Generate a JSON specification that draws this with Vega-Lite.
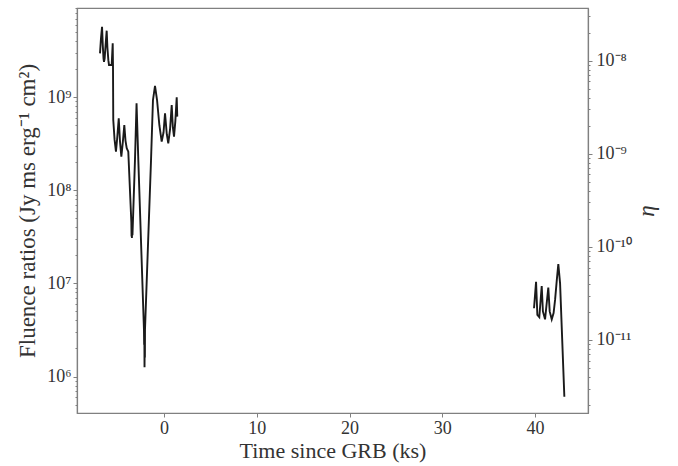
{
  "$schema": "https://vega.github.io/schema/vega-lite/v6.json",
  "autosize": "none",
  "width": 511,
  "height": 405,
  "padding": {"left": 77, "top": 8, "right": 90, "bottom": 53},
  "background": "white",
  "config": {
    "view": {"stroke": "#808080", "strokeWidth": 1.2},
    "font": "Liberation Serif",
    "axis": {
      "domainColor": "#808080",
      "domainWidth": 1.2,
      "tickColor": "#808080",
      "labelColor": "#333333",
      "titleColor": "#333333",
      "labelFont": "Liberation Serif",
      "titleFont": "Liberation Serif",
      "labelFontSize": 18,
      "titleFontSize": 22,
      "titleFontWeight": "normal",
      "grid": false
    }
  },
  "layer": [
    {
      "data": {
        "values": [
          {"t": -6.90, "F": 2.96e9, "seg": "a"},
          {"t": -6.80, "F": 4.2e9, "seg": "a"},
          {"t": -6.68, "F": 5.71e9, "seg": "a"},
          {"t": -6.60, "F": 3.6e9, "seg": "a"},
          {"t": -6.52, "F": 2.6e9, "seg": "a"},
          {"t": -6.47, "F": 2.40e9, "seg": "a"},
          {"t": -6.40, "F": 2.6e9, "seg": "a"},
          {"t": -6.30, "F": 3.6e9, "seg": "a"},
          {"t": -6.18, "F": 5.18e9, "seg": "a"},
          {"t": -6.10, "F": 3.4e9, "seg": "a"},
          {"t": -6.00, "F": 2.5e9, "seg": "a"},
          {"t": -5.93, "F": 2.22e9, "seg": "a"},
          {"t": -5.64, "F": 2.22e9, "seg": "a"},
          {"t": -5.53, "F": 3.79e9, "seg": "a"},
          {"t": -5.50, "F": 2.22e9, "seg": "a"},
          {"t": -5.47, "F": 5.69e8, "seg": "a"},
          {"t": -5.33, "F": 3.5e8, "seg": "a"},
          {"t": -5.18, "F": 2.60e8, "seg": "a"},
          {"t": -5.05, "F": 3.6e8, "seg": "a"},
          {"t": -4.88, "F": 5.93e8, "seg": "a"},
          {"t": -4.75, "F": 3.4e8, "seg": "a"},
          {"t": -4.60, "F": 2.30e8, "seg": "a"},
          {"t": -4.45, "F": 3.2e8, "seg": "a"},
          {"t": -4.28, "F": 5.02e8, "seg": "a"},
          {"t": -4.15, "F": 3.4e8, "seg": "a"},
          {"t": -4.02, "F": 2.83e8, "seg": "a"},
          {"t": -3.85, "F": 2.60e8, "seg": "a"},
          {"t": -3.52, "F": 4.5e7, "seg": "a"},
          {"t": -3.50, "F": 3.2e7, "seg": "a"},
          {"t": -3.48, "F": 4.2e7, "seg": "a"},
          {"t": -3.46, "F": 3.08e7, "seg": "a"},
          {"t": -3.44, "F": 3.8e7, "seg": "a"},
          {"t": -3.40, "F": 3.3e7, "seg": "a"},
          {"t": -3.13, "F": 2.11e8, "seg": "a"},
          {"t": -2.96, "F": 8.59e8, "seg": "a"},
          {"t": -2.77, "F": 2.11e8, "seg": "a"},
          {"t": -2.16, "F": 3.16e6, "seg": "a"},
          {"t": -2.14, "F": 2.2e6, "seg": "a"},
          {"t": -2.12, "F": 3.0e6, "seg": "a"},
          {"t": -2.10, "F": 1.26e6, "seg": "a"},
          {"t": -2.08, "F": 2.6e6, "seg": "a"},
          {"t": -2.06, "F": 1.6e6, "seg": "a"},
          {"t": -2.05, "F": 3.2e6, "seg": "a"},
          {"t": -1.40, "F": 2.11e8, "seg": "a"},
          {"t": -1.19, "F": 9.33e8, "seg": "a"},
          {"t": -0.97, "F": 1.32e9, "seg": "a"},
          {"t": -0.75, "F": 9.33e8, "seg": "a"},
          {"t": -0.50, "F": 5.0e8, "seg": "a"},
          {"t": -0.25, "F": 3.33e8, "seg": "a"},
          {"t": -0.05, "F": 4.2e8, "seg": "a"},
          {"t": 0.11, "F": 6.71e8, "seg": "a"},
          {"t": 0.30, "F": 4.0e8, "seg": "a"},
          {"t": 0.46, "F": 3.20e8, "seg": "a"},
          {"t": 0.65, "F": 4.5e8, "seg": "a"},
          {"t": 0.83, "F": 8.24e8, "seg": "a"},
          {"t": 0.95, "F": 4.8e8, "seg": "a"},
          {"t": 1.08, "F": 3.77e8, "seg": "a"},
          {"t": 1.22, "F": 5.5e8, "seg": "a"},
          {"t": 1.37, "F": 1.0e9, "seg": "a"},
          {"t": 1.43, "F": 6.18e8, "seg": "a"},
          {"t": 39.89, "F": 5.41e6, "seg": "b"},
          {"t": 40.11, "F": 1.04e7, "seg": "b"},
          {"t": 40.25, "F": 4.58e6, "seg": "b"},
          {"t": 40.46, "F": 4.33e6, "seg": "b"},
          {"t": 40.72, "F": 9.37e6, "seg": "b"},
          {"t": 40.85, "F": 5.0e6, "seg": "b"},
          {"t": 41.08, "F": 4.11e6, "seg": "b"},
          {"t": 41.43, "F": 9.0e6, "seg": "b"},
          {"t": 41.58, "F": 5.0e6, "seg": "b"},
          {"t": 41.80, "F": 4.11e6, "seg": "b"},
          {"t": 42.00, "F": 4.8e6, "seg": "b"},
          {"t": 42.16, "F": 6.64e6, "seg": "b"},
          {"t": 42.35, "F": 1.1e7, "seg": "b"},
          {"t": 42.51, "F": 1.61e7, "seg": "b"},
          {"t": 42.70, "F": 1.0e7, "seg": "b"},
          {"t": 43.16, "F": 6.06e5, "seg": "b"}
        ]
      },
      "mark": {"type": "line", "color": "#1a1a1a", "strokeWidth": 1.9, "clip": true},
      "encoding": {
        "x": {
          "field": "t", "type": "quantitative",
          "scale": {"domain": [-9.38, 45.71], "nice": false, "zero": false},
          "axis": {
            "title": "Time since GRB (ks)",
            "values": [0, 10, 20, 30, 40],
            "tickSize": 4,
            "labelPadding": 2,
            "titlePadding": 3
          }
        },
        "y": {
          "field": "F", "type": "quantitative",
          "scale": {"type": "log", "domain": [4.055e5, 9.078e9], "nice": false},
          "axis": {
            "title": "Fluence ratios (Jy ms erg⁻¹ cm²)",
            "titleFontSize": 23,
            "orient": "left",
            "values": [5e5, 6e5, 7e5, 8e5, 9e5, 1e6, 2e6, 3e6, 4e6, 5e6, 6e6, 7e6, 8e6, 9e6, 1e7, 2e7, 3e7, 4e7, 5e7, 6e7, 7e7, 8e7, 9e7, 1e8, 2e8, 3e8, 4e8, 5e8, 6e8, 7e8, 8e8, 9e8, 1e9, 2e9, 3e9, 4e9, 5e9, 6e9, 7e9, 8e9, 9e9],
            "labelExpr": "datum.value==1e6?'10⁶':datum.value==1e7?'10⁷':datum.value==1e8?'10⁸':datum.value==1e9?'10⁹':''",
            "labelOverlap": false,
            "tickSize": {"condition": {"test": "datum.value==1e6||datum.value==1e7||datum.value==1e8||datum.value==1e9", "value": 4}, "value": 2},
            "labelPadding": 2,
            "titlePadding": 7
          }
        },
        "detail": {"field": "seg", "type": "nominal"}
      }
    },
    {
      "data": {"values": [{"eta": 1e-10}]},
      "mark": {"type": "point", "opacity": 0},
      "encoding": {
        "y": {
          "field": "eta", "type": "quantitative",
          "scale": {"type": "log", "domain": [1.644e-12, 3.681e-8], "nice": false},
          "axis": {
            "title": "η",
            "orient": "right",
            "titleFontStyle": "italic",
            "titleAngle": 270,
            "titleFontSize": 23,
            "values": [2e-12, 3e-12, 4e-12, 5e-12, 6e-12, 7e-12, 8e-12, 9e-12, 1e-11, 2e-11, 3e-11, 4e-11, 5e-11, 6e-11, 7e-11, 8e-11, 9e-11, 1e-10, 2e-10, 3e-10, 4e-10, 5e-10, 6e-10, 7e-10, 8e-10, 9e-10, 1e-9, 2e-9, 3e-9, 4e-9, 5e-9, 6e-9, 7e-9, 8e-9, 9e-9, 1e-8, 2e-8, 3e-8],
            "labelExpr": "datum.value==1e-11?'10⁻¹¹':datum.value==1e-10?'10⁻¹⁰':datum.value==1e-9?'10⁻⁹':datum.value==1e-8?'10⁻⁸':''",
            "labelOverlap": false,
            "tickSize": {"condition": {"test": "datum.value==1e-11||datum.value==1e-10||datum.value==1e-9||datum.value==1e-8", "value": 4}, "value": 2},
            "labelPadding": 4,
            "titlePadding": 27
          }
        }
      }
    }
  ],
  "resolve": {"scale": {"y": "independent"}, "axis": {"y": "independent"}}
}
